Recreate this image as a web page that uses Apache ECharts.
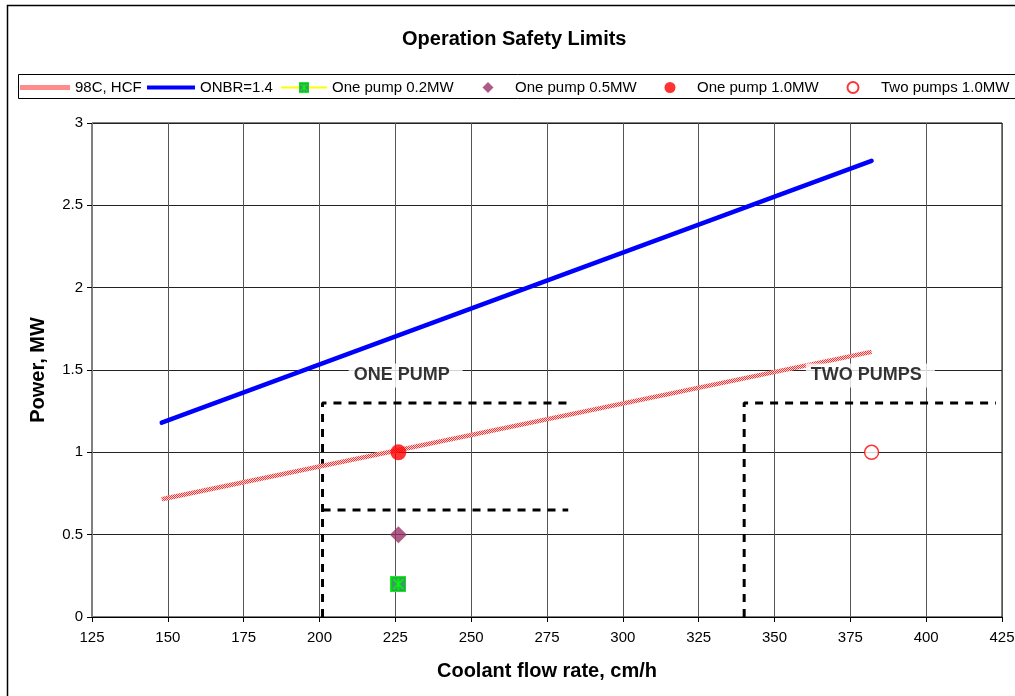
<!DOCTYPE html>
<html>
<head>
<meta charset="utf-8">
<script src="https://cdn.jsdelivr.net/npm/echarts@6/dist/echarts.min.js"></script>
<style>
  html, body { margin: 0; padding: 0; background: #fff; }
  #chart { width: 1015px; height: 696px; }
</style>
</head>
<body>
<div id="chart"></div>
<script>
// Limit curves: coolant flow rate (cm/h) vs power (MW)
const hcfFlow = [148, 382];
const hcfPower = [0.715, 1.61];
const onbrFlow = [148, 226, 382];
const onbrPower = [1.18, 1.71, 2.77];

// Operating points
const pump02Flow = [226];
const pump02Power = [0.2];
const pump05Flow = [226];
const pump05Power = [0.5];
const pump10Flow = [226];
const pump10Power = [1.0];
const twoPump10Flow = [382];
const twoPump10Power = [1.0];

// Dashed operating envelopes
const oneLimitFlow = [201, 201, 282];
const oneLimitPower = [0, 1.3, 1.3];
const oneMidFlow = [201, 282];
const oneMidPower = [0.65, 0.65];
const twoLimitFlow = [340, 340, 423];
const twoLimitPower = [0, 1.3, 1.3];

// Axis ranges and tick steps
const flowRange = { min: 125, max: 425, step: 25 };
const powerRange = { min: 0, max: 3, step: 0.5 };

const FONT = '"Liberation Sans", Arial, sans-serif';
const zip = (xs, ys) => xs.map((x, i) => [x, ys[i]]);

// Red/white dithered stroke for the 98C curve
function hatchPattern() {
  const c = document.createElement('canvas');
  c.width = 2; c.height = 2;
  const g = c.getContext('2d');
  g.fillStyle = '#ffdcdc';
  g.fillRect(0, 0, 2, 2);
  g.fillStyle = '#ff3030';
  g.fillRect(0, 0, 1, 1);
  g.fillRect(1, 1, 1, 1);
  return { image: c, repeat: 'repeat' };
}

// Green square marker with an asterisk
function crossSquare(size) {
  const c = document.createElement('canvas');
  c.width = size; c.height = size;
  const g = c.getContext('2d');
  g.fillStyle = '#3a9c62';
  g.fillRect(0, 0, size, size);
  g.strokeStyle = '#00ff00';
  g.lineWidth = 1;
  g.strokeRect(0.5, 0.5, size - 1, size - 1);
  g.lineWidth = 1.5;
  g.beginPath();
  g.moveTo(3, 3); g.lineTo(size - 3, size - 3);
  g.moveTo(size - 3, 3); g.lineTo(3, size - 3);
  g.moveTo(size / 2, 2); g.lineTo(size / 2, size - 2);
  g.stroke();
  return 'image://' + c.toDataURL();
}

const hatch = hatchPattern();
const squareSymbol = crossSquare(16);

const legendText = { fontSize: 15, fontFamily: FONT, color: '#000' };
const legendBase = { orient: 'horizontal', padding: 0, selectedMode: false, top: 80, textStyle: legendText };
// Marker-only entries: square icon box, text pushed right
const markerLegendText = Object.assign({}, legendText, { padding: [0, 0, 0, 16.5] });

const dashStyle = { color: '#000', width: 3, type: [8, 7] };

function envelope(xs, ys) {
  return {
    type: 'line', data: zip(xs, ys), symbol: 'none', silent: true,
    lineStyle: dashStyle, z: 3, animation: false
  };
}

function areaLabel(text, at) {
  return {
    type: 'scatter', data: [at], symbolSize: 1, silent: true, z: 10,
    itemStyle: { color: 'transparent' },
    label: {
      show: true, position: 'inside', formatter: text,
      fontSize: 18, fontWeight: 'bold', fontFamily: FONT, color: '#000',
      backgroundColor: '#fff', padding: [3, 13, 3, 5]
    }
  };
}

const chart = echarts.init(document.getElementById('chart'), null, { renderer: 'canvas' });

chart.setOption({
  animation: false,
  backgroundColor: '#fff',
  title: {
    text: 'Operation Safety Limits',
    left: 402, top: 29, padding: 0,
    textStyle: { fontSize: 20, fontWeight: 'bold', fontFamily: FONT, color: '#000' }
  },
  graphic: [
    { type: 'rect', shape: { x: 7.5, y: 5.5, width: 1300, height: 900 },
      style: { fill: 'none', stroke: '#000', lineWidth: 1.5 }, silent: true },
    { type: 'rect', shape: { x: 18.5, y: 74.5, width: 1300, height: 24 },
      style: { fill: 'none', stroke: '#000', lineWidth: 1 }, silent: true }
  ],
  legend: [
    Object.assign({}, legendBase, {
      data: [{ name: '98C, HCF', icon: 'rect', itemStyle: { color: '#ff8c8c', opacity: 1 } }],
      left: 20, itemWidth: 50, itemHeight: 5, symbolKeepAspect: false
    }),
    Object.assign({}, legendBase, {
      data: [{ name: 'ONBR=1.4', icon: 'rect' }], left: 147,
      itemWidth: 48, itemHeight: 4, symbolKeepAspect: false
    }),
    Object.assign({}, legendBase, {
      data: ['One pump 0.2MW'], left: 280,
      itemWidth: 46, itemHeight: 13
    }),
    Object.assign({}, legendBase, {
      data: ['One pump 0.5MW'], left: 482.5,
      itemWidth: 11, itemHeight: 11, textStyle: markerLegendText
    }),
    Object.assign({}, legendBase, {
      data: ['One pump 1.0MW'], left: 664.5,
      itemWidth: 11, itemHeight: 11, textStyle: markerLegendText
    }),
    Object.assign({}, legendBase, {
      data: ['Two pumps 1.0MW'], left: 846.5,
      itemWidth: 11, itemHeight: 11,
      textStyle: Object.assign({}, legendText, { padding: [0, 0, 0, 17.5] })
    })
  ],
  grid: {
    left: 92, top: 123, right: 13, bottom: 79,
    show: true, borderColor: '#000', borderWidth: 1,
    containLabel: false, outerBoundsMode: 'none'
  },
  xAxis: {
    type: 'value',
    min: flowRange.min, max: flowRange.max, interval: flowRange.step,
    name: 'Coolant flow rate, cm/h', nameLocation: 'middle', nameGap: 44,
    nameTextStyle: { fontSize: 20, fontWeight: 'bold', fontFamily: FONT, color: '#000' },
    axisLine: { show: true, onZero: false, lineStyle: { color: '#000', width: 1 } },
    axisTick: { show: true, length: 5, inside: false, lineStyle: { color: '#000' } },
    axisLabel: { fontSize: 15, fontFamily: FONT, color: '#000', margin: 13, hideOverlap: false },
    splitLine: { show: true, lineStyle: { color: '#555', width: 1 } }
  },
  yAxis: {
    type: 'value',
    min: powerRange.min, max: powerRange.max, interval: powerRange.step,
    name: 'Power, MW', nameLocation: 'middle', nameGap: 44, nameRotate: 90,
    nameTextStyle: { fontSize: 20, fontWeight: 'bold', fontFamily: FONT, color: '#000' },
    axisLine: { show: true, onZero: false, lineStyle: { color: '#808080', width: 1 } },
    axisTick: { show: true, length: 5, inside: false, lineStyle: { color: '#000' } },
    axisLabel: { fontSize: 15, fontFamily: FONT, color: '#000', margin: 9, hideOverlap: false },
    splitLine: { show: true, lineStyle: { color: '#222', width: 1 } }
  },
  series: [
    envelope(oneLimitFlow, oneLimitPower),
    envelope(oneMidFlow, oneMidPower),
    envelope(twoLimitFlow, twoLimitPower),
    {
      name: '98C, HCF', type: 'line', data: zip(hcfFlow, hcfPower),
      symbol: 'none', z: 4,
      lineStyle: { color: hatch, width: 4.5 },
      itemStyle: { color: hatch }
    },
    {
      name: 'ONBR=1.4', type: 'line', data: zip(onbrFlow, onbrPower),
      symbol: 'none', z: 4,
      lineStyle: { color: '#0000ff', width: 4.5, cap: 'round' },
      itemStyle: { color: '#0000ff' }
    },
    {
      name: 'One pump 0.2MW', type: 'line', data: zip(pump02Flow, pump02Power),
      symbol: squareSymbol, symbolSize: 16, z: 6,
      lineStyle: { color: '#ffff00', width: 1.5 },
      itemStyle: { color: '#3a9c62' }
    },
    {
      name: 'One pump 0.5MW', type: 'scatter', data: zip(pump05Flow, pump05Power),
      symbol: 'diamond', symbolSize: 17, z: 6,
      itemStyle: { color: '#993366' }
    },
    {
      name: 'One pump 1.0MW', type: 'scatter', data: zip(pump10Flow, pump10Power),
      symbol: 'circle', symbolSize: 16, z: 6,
      itemStyle: { color: '#ff0000' }
    },
    {
      name: 'Two pumps 1.0MW', type: 'scatter', data: zip(twoPump10Flow, twoPump10Power),
      symbol: 'circle', symbolSize: 14, z: 6,
      itemStyle: { color: '#ffffff', borderColor: '#ff0000', borderWidth: 1.5 }
    },
    areaLabel('ONE PUMP', [228.4, 1.467]),
    areaLabel('TWO PUMPS', [381.6, 1.467])
  ]
});
</script>
</body>
</html>
